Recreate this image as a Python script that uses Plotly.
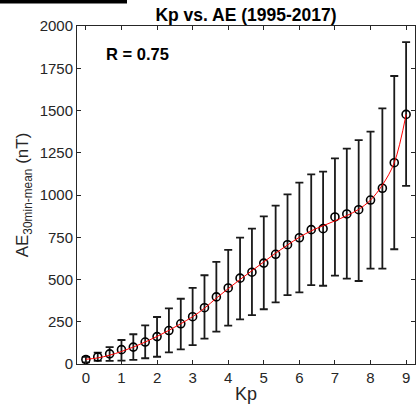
import plotly.graph_objects as go

kp = [0, 0.333, 0.667, 1, 1.333, 1.667, 2, 2.333, 2.667, 3, 3.333, 3.667, 4, 4.333,
      4.667, 5, 5.333, 5.667, 6, 6.333, 6.667, 7, 7.333, 7.667, 8, 8.333, 8.667, 9]
ae_mean = [27, 42, 60, 85, 100, 130, 162, 198, 238, 280, 333, 397, 450, 508,
           543, 597, 649, 706, 747, 795, 801, 870, 888, 913, 970, 1040, 1191, 1477]
ae_upper = [42, 67, 100, 142, 176, 229, 278, 329, 386, 451, 525, 604, 675, 748,
            801, 874, 937, 1004, 1073, 1122, 1138, 1217, 1274, 1325, 1375, 1513, 1704, 1904]
ae_lower = [10, 18, 18, 20, 24, 34, 43, 69, 87, 112, 150, 191, 227, 264,
            289, 324, 365, 408, 424, 467, 463, 523, 505, 491, 564, 564, 679, 1054]
ae_fit = [28, 36, 52, 74, 100, 130, 163, 199, 238, 280, 330, 390, 446, 500,
          552, 604, 656, 704, 750, 788, 818, 847, 878, 915, 970, 1059, 1191, 1477]
x_ticks = [0, 1, 2, 3, 4, 5, 6, 7, 8, 9]
y_ticks = [0, 250, 500, 750, 1000, 1250, 1500, 1750, 2000]

err_plus = [u - m for u, m in zip(ae_upper, ae_mean)]
err_minus = [m - l for m, l in zip(ae_mean, ae_lower)]

fig = go.Figure()
fig.add_trace(go.Scatter(
    x=kp, y=ae_mean, mode="markers",
    marker=dict(symbol="circle-open", size=8, color="black", line=dict(width=1.6, color="black")),
    error_y=dict(type="data", symmetric=False, array=err_plus, arrayminus=err_minus,
                 color="#1a1a1a", thickness=1.8, width=4),
    showlegend=False))
fig.add_trace(go.Scatter(
    x=kp, y=ae_fit, mode="lines", line=dict(color="red", width=1, shape="spline"),
    showlegend=False))

font_family = "Liberation Sans, Arial, sans-serif"
axis_common = dict(showline=True, linecolor="#262626", linewidth=1, mirror="ticks",
                   ticks="inside", ticklen=4, tickcolor="#262626", showgrid=False,
                   zeroline=False, tickfont=dict(size=15, color="#262626", family=font_family))
fig.update_xaxes(range=[-0.25, 9.25], tickvals=x_ticks,
                 title=dict(text="Kp", font=dict(size=18, color="#262626", family=font_family), standoff=2),
                 **axis_common)
fig.update_yaxes(range=[0, 2000], tickvals=y_ticks,
                 title=dict(text="AE<sub>30min-mean</sub> (nT)",
                            font=dict(size=17, color="#262626", family=font_family), standoff=6),
                 **axis_common)

fig.add_annotation(x=0.5, y=1835, xref="x", yref="y", text="<b>R = 0.75</b>",
                   showarrow=False, xanchor="left", yanchor="middle",
                   font=dict(size=16.5, color="black", family=font_family))
fig.add_shape(type="rect", xref="paper", yref="paper", x0=-77/338, x1=50/338,
              y0=1 + 22.5/338, y1=1 + 26.5/338, fillcolor="black", line=dict(width=0))

fig.update_layout(
    width=416, height=404,
    margin=dict(l=77, r=1, t=26, b=40),
    paper_bgcolor="white", plot_bgcolor="white",
    title=dict(text="<b>Kp vs. AE (1995-2017)</b>", x=0.5, xref="paper", y=1 - 15/404,
               yanchor="middle", font=dict(size=17.5, color="black", family=font_family)),
    font=dict(family=font_family),
)
fig.write_html("out.html", config={"displayModeBar": False},
               post_script="document.body.style.margin='0';document.body.style.overflow='hidden';")
